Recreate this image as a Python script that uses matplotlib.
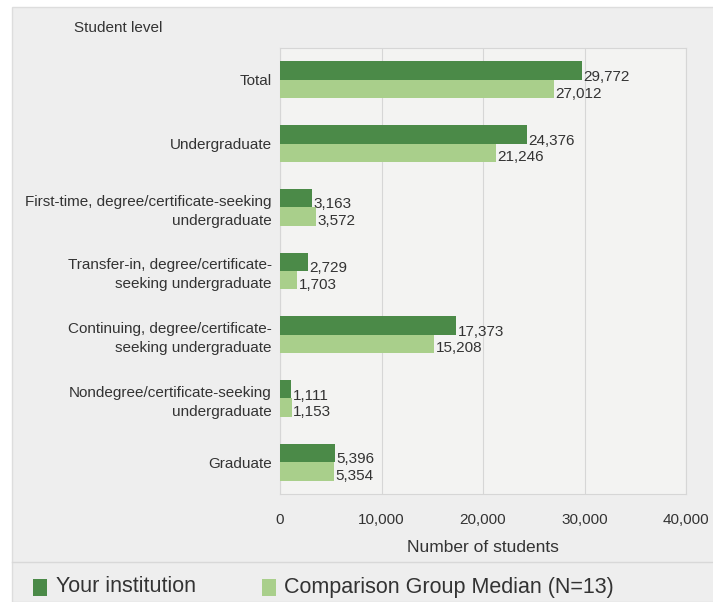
import numpy as np
import matplotlib
matplotlib.use("Agg")
import matplotlib.pyplot as plt
from matplotlib.patches import Rectangle

plt.rcParams["font.family"] = ["Liberation Sans Narrow", "Liberation Sans", "DejaVu Sans"]

# ── data ──────────────────────────────────────────────────────────────────────
categories = [
    "Total",
    "Undergraduate",
    "First-time, degree/certificate-seeking\nundergraduate",
    "Transfer-in, degree/certificate-\nseeking undergraduate",
    "Continuing, degree/certificate-\nseeking undergraduate",
    "Nondegree/certificate-seeking\nundergraduate",
    "Graduate",
]
your_institution = [29772, 24376, 3163, 2729, 17373, 1111, 5396]
comparison_median = [27012, 21246, 3572, 1703, 15208, 1153, 5354]
x_ticks = [0, 10000, 20000, 30000, 40000]

# ── colours ───────────────────────────────────────────────────────────────────
DARK = "#4b8a48"
LIGHT = "#a9cf8b"
PANEL = "#eeeeee"
PLOT_BG = "#f3f3f2"
GRID = "#d6d6d6"
TEXT = "#333333"

fig = plt.figure(figsize=(7.13, 6.02), dpi=100)
fig.patch.set_facecolor("white")

# outer grey panel (behind the axes)
fig.patches.append(Rectangle((12 / 713, 0), 1, 1 - 7 / 602, transform=fig.transFigure,
                             facecolor=PANEL, edgecolor="#dddddd", linewidth=1.0, zorder=-5))

ax = fig.add_axes([280 / 713, 1 - 494 / 602, 406 / 713, 446 / 602])
ax.set_facecolor(PLOT_BG)

y = np.arange(len(categories))
h = 0.29
ax.barh(y - h / 2, your_institution, height=h, color=DARK, zorder=3)
ax.barh(y + h / 2, comparison_median, height=h, color=LIGHT, zorder=3)

for yi, v1, v2 in zip(y, your_institution, comparison_median):
    ax.text(v1 + 120, yi - h / 2 + 0.1, f"{v1:,}", va="center", ha="left",
            fontsize=11, color=TEXT, zorder=4)
    ax.text(v2 + 120, yi + h / 2 + 0.07, f"{v2:,}", va="center", ha="left",
            fontsize=11, color=TEXT, zorder=4)

ax.set_xlim(0, 40000)
ax.set_ylim(len(categories) - 0.5, -0.5)
ax.set_xticks(x_ticks)
ax.set_xticklabels([f"{t:,}" for t in x_ticks], fontsize=11, color=TEXT)
ax.set_yticks(y)
ax.set_yticklabels(categories, fontsize=11, color=TEXT, linespacing=1.45)
ax.tick_params(axis="both", length=0, pad=6)
ax.tick_params(axis="x", pad=14)
ax.xaxis.grid(True, color=GRID, linewidth=0.8, zorder=0)
for s in ax.spines.values():
    s.set_color(GRID)
    s.set_linewidth(0.8)
ax.set_xlabel("Number of students", fontsize=12.5, color=TEXT, labelpad=9)

fig.text(118 / 713, 1 - 28 / 602, "Student level", fontsize=11, color=TEXT,
         ha="center", va="center")

# separator above legend
fig.add_artist(plt.Line2D([12 / 713, 1], [1 - 562 / 602] * 2, transform=fig.transFigure,
                          color="#d8d8d8", linewidth=1.0))

# legend
fig.patches.append(Rectangle((33 / 713, 1 - 596 / 602), 14 / 713, 17 / 602,
                             transform=fig.transFigure, facecolor=DARK, edgecolor="none"))
fig.text(56 / 713, 1 - 587 / 602, "Your institution", fontsize=15.5, color=TEXT, va="center")
fig.patches.append(Rectangle((262 / 713, 1 - 596 / 602), 14 / 713, 17 / 602,
                             transform=fig.transFigure, facecolor=LIGHT, edgecolor="none"))
fig.text(284 / 713, 1 - 587 / 602, "Comparison Group Median (N=13)", fontsize=15.5,
         color=TEXT, va="center")

fig.savefig("out.png", dpi=100, facecolor="white")
